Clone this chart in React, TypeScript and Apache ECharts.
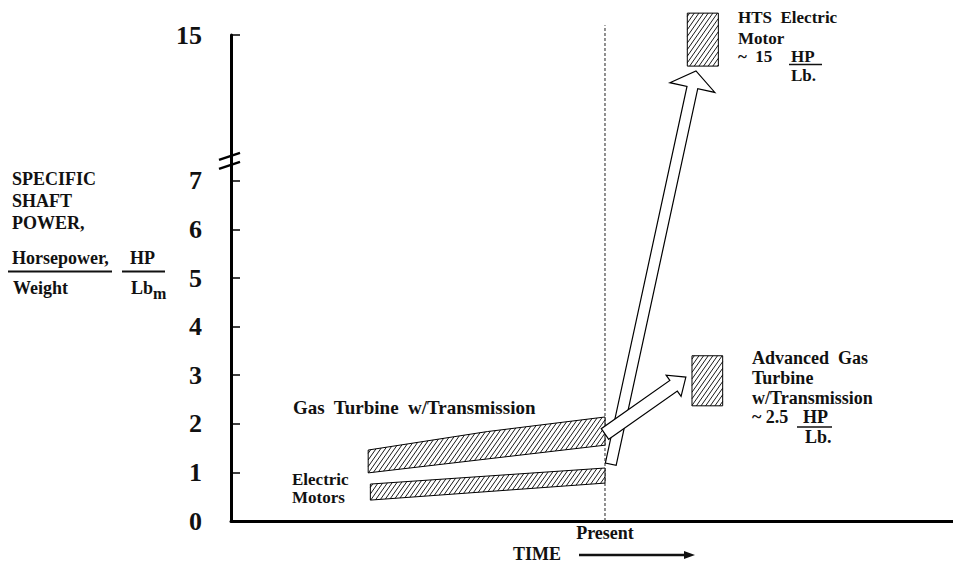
import React, { useEffect, useRef } from "react";
import * as echarts from "echarts";

// ---- data (display units: y 0..7 linear, axis break, 15 shown at display 10) ----
const yTickValues = [0, 1, 2, 3, 4, 5, 6, 7, 10];
const yTickLabels = ["0", "1", "2", "3", "4", "5", "6", "7", "15"];
const presentX = 51.8;
const presentTop = 10.2;
const axisBreakY = 7.41;
const gasTurbineBand = [[19.0, 0.99], [19.0, 1.46], [35.5, 1.84], [51.8, 2.14], [51.8, 1.56]];
const electricMotorBand = [[19.3, 0.43], [19.3, 0.76], [51.8, 1.09], [51.8, 0.78]];
const htsBox = [[63.2, 9.36], [67.5, 10.45]];
const advGasBox = [[63.85, 2.37], [68.1, 3.4]];
const htsArrow = [[52.6, 1.17], [64.4, 9.26]];
const advGasArrow = [[51.8, 1.79], [63.0, 2.96]];

const FONT = '"Liberation Serif", "Times New Roman", serif';
const INK = "#111";

function hatchLines(pts: number[][], spacing: number, angleDeg: number) {
  const a = (angleDeg * Math.PI) / 180;
  const nx = Math.sin(a), ny = Math.cos(a);
  const proj = pts.map((p) => p[0] * nx + p[1] * ny);
  const lo = Math.min(...proj), hi = Math.max(...proj);
  const out: any[] = [];
  for (let c = lo + spacing / 2; c < hi; c += spacing) {
    const hits: number[][] = [];
    for (let i = 0; i < pts.length; i++) {
      const p1 = pts[i], p2 = pts[(i + 1) % pts.length];
      const v1 = proj[i] - c, v2 = proj[(i + 1) % pts.length] - c;
      if ((v1 <= 0 && v2 > 0) || (v1 > 0 && v2 <= 0)) {
        const t = v1 / (v1 - v2);
        hits.push([p1[0] + t * (p2[0] - p1[0]), p1[1] + t * (p2[1] - p1[1])]);
      }
    }
    if (hits.length >= 2) {
      out.push({
        type: "line",
        shape: { x1: hits[0][0], y1: hits[0][1], x2: hits[1][0], y2: hits[1][1] },
        style: { stroke: "#000", lineWidth: 0.9 },
        silent: true,
      });
    }
  }
  return out;
}

function hatchedShape(pts: number[][]) {
  return {
    type: "group",
    children: [
      { type: "polygon", shape: { points: pts }, style: { fill: "#fff", stroke: "#000", lineWidth: 1 } },
      ...hatchLines(pts, 3.8, 55),
    ],
  };
}

function arrowShape(tail: number[], tip: number[], sw: number, hw: number, hl: number) {
  const dx = tip[0] - tail[0], dy = tip[1] - tail[1];
  const len = Math.hypot(dx, dy);
  const ux = dx / len, uy = dy / len;
  const nx = -uy, ny = ux;
  const bx = tip[0] - ux * hl, by = tip[1] - uy * hl;
  const pts = [
    [tail[0] + nx * sw / 2, tail[1] + ny * sw / 2],
    [bx + nx * sw / 2, by + ny * sw / 2],
    [bx + nx * hw / 2, by + ny * hw / 2],
    [tip[0], tip[1]],
    [bx - nx * hw / 2, by - ny * hw / 2],
    [bx - nx * sw / 2, by - ny * sw / 2],
    [tail[0] - nx * sw / 2, tail[1] - ny * sw / 2],
  ];
  return { type: "polygon", shape: { points: pts }, style: { fill: "#fff", stroke: "#000", lineWidth: 1.2 } };
}

const bands = [gasTurbineBand, electricMotorBand];
const boxes = [htsBox, advGasBox];
const arrows = [
  { pts: htsArrow, sw: 11, hw: 46, hl: 17 },
  { pts: advGasArrow, sw: 13, hw: 26, hl: 15 },
];

function txt(text: string, x: number, y: number, size = 18, align = "left", extra: any = {}) {
  return {
    type: "text",
    x,
    y,
    silent: true,
    style: {
      text,
      fill: INK,
      fontFamily: FONT,
      fontWeight: "bold",
      fontSize: size,
      textAlign: align,
      textVerticalAlign: "middle",
      ...extra,
    },
  };
}
function hline(x1: number, x2: number, y: number, w = 1.5) {
  return { type: "line", silent: true, shape: { x1, y1: y, x2, y2: y }, style: { stroke: INK, lineWidth: w } };
}

export default function App() {
  const ref = useRef<HTMLDivElement>(null);
  useEffect(() => {
    if (!ref.current) return;
    const chart = echarts.init(ref.current, null, { renderer: "svg" });
    const option: any = {
      animation: false,
      backgroundColor: "#fff",
      grid: { left: 231, right: 0, top: 35, bottom: 42 },
      xAxis: {
        type: "value",
        min: 0,
        max: 100,
        splitLine: { show: false },
        axisTick: { show: false },
        axisLine: { show: true, lineStyle: { color: "#000", width: 3 } },
        axisLabel: {
          customValues: [presentX],
          formatter: () => "Present",
          margin: 3,
          color: INK,
          fontFamily: FONT,
          fontWeight: "bold",
          fontSize: 18,
        },
      },
      yAxis: {
        type: "value",
        min: 0,
        max: 10,
        splitLine: { show: false },
        axisLine: { show: true, lineStyle: { color: "#000", width: 3 } },
        axisTick: {
          show: true,
          inside: true,
          length: 9,
          customValues: yTickValues,
          lineStyle: { color: "#000", width: 1.5 },
        },
        axisLabel: {
          customValues: yTickValues,
          formatter: (v: number) => yTickLabels[yTickValues.indexOf(v)] ?? "",
          margin: 29,
          color: INK,
          fontFamily: FONT,
          fontWeight: "bold",
          fontSize: 26,
          padding: [0, 0, 8, 0],
        },
      },
      series: [
        {
          type: "custom",
          name: "present",
          data: [[presentX, 0, presentTop]],
          renderItem: (params: any, api: any) => {
            const a = api.coord([api.value(0), api.value(1)]);
            const b = api.coord([api.value(0), api.value(2)]);
            return {
              type: "line",
              shape: { x1: a[0], y1: a[1], x2: b[0], y2: b[1] },
              style: { stroke: "#222", lineWidth: 1, lineDash: [3, 2] },
            };
          },
        },
        {
          type: "custom",
          name: "bands",
          data: bands.map((_, i) => [i]),
          renderItem: (params: any, api: any) => {
            const poly = bands[api.value(0)].map((p) => api.coord(p));
            return hatchedShape(poly);
          },
        },
        {
          type: "custom",
          name: "boxes",
          data: boxes.map((_, i) => [i]),
          renderItem: (params: any, api: any) => {
            const b = boxes[api.value(0)];
            const p0 = api.coord(b[0]);
            const p1 = api.coord(b[1]);
            const poly = [[p0[0], p0[1]], [p1[0], p0[1]], [p1[0], p1[1]], [p0[0], p1[1]]];
            return hatchedShape(poly);
          },
        },
        {
          type: "custom",
          name: "arrows",
          data: arrows.map((_, i) => [i]),
          renderItem: (params: any, api: any) => {
            const a = arrows[api.value(0)];
            return arrowShape(api.coord(a.pts[0]), api.coord(a.pts[1]), a.sw, a.hw, a.hl);
          },
        },
        {
          type: "custom",
          name: "break",
          data: [[0, axisBreakY]],
          renderItem: (params: any, api: any) => {
            const c = api.coord([api.value(0), api.value(1)]);
            const mk = (dy: number) => ({
              type: "line",
              shape: { x1: c[0] - 12, y1: c[1] + dy + 3.5, x2: c[0] + 9, y2: c[1] + dy - 3.5 },
              style: { stroke: "#000", lineWidth: 2.5 },
            });
            return { type: "group", children: [mk(-4.5), mk(4.5)] };
          },
        },
      ],
      graphic: [
        // y-axis title
        txt("SPECIFIC", 12, 179),
        txt("SHAFT", 12, 201),
        txt("POWER,", 12, 223),
        txt("Horsepower,", 12, 258),
        hline(8, 112, 271.5, 2),
        txt("Weight", 13, 288),
        txt("HP", 130, 258),
        hline(122, 165, 271.5, 2),
        { type: "text", x: 131, y: 288, silent: true, style: { text: "{a|Lb}{b|m}", fill: INK, fontFamily: FONT, fontWeight: "bold", fontSize: 18, textVerticalAlign: "middle", rich: { a: { fontFamily: FONT, fontWeight: "bold", fontSize: 18, fill: INK }, b: { fontFamily: FONT, fontWeight: "bold", fontSize: 16, fill: INK, padding: [10, 0, 0, 0] } } } },
        // series labels
        txt("Gas  Turbine  w/Transmission", 293, 407, 19),
        txt("Electric", 292, 479, 17),
        txt("Motors", 292, 497, 17),
        // HTS
        txt("HTS  Electric", 738, 17, 17),
        txt("Motor", 738, 38, 17),
        txt("~  15", 738, 56, 17),
        txt("HP", 791, 56, 17),
        hline(789, 822, 64.5, 1.3),
        txt("Lb.", 791, 75, 17),
        // Advanced gas turbine
        txt("Advanced  Gas", 752, 358, 18),
        txt("Turbine", 752, 378, 18),
        txt("w/Transmission", 752, 398, 18),
        txt("~ 2.5", 752, 417, 18),
        txt("HP", 803, 417, 18),
        hline(797, 832, 427, 1.3),
        txt("Lb.", 805, 437, 18),
        // time
        txt("TIME", 513, 554, 18),
        hline(579, 688, 555, 2.5),
        { type: "polygon", silent: true, shape: { points: [[684, 551], [695, 555], [684, 559]] }, style: { fill: INK } },
      ],
    };
    chart.setOption(option);
    return () => chart.dispose();
  }, []);
  return <div ref={ref} style={{ position: "fixed", left: 0, top: 0, width: 953, height: 563 }} />;
}
